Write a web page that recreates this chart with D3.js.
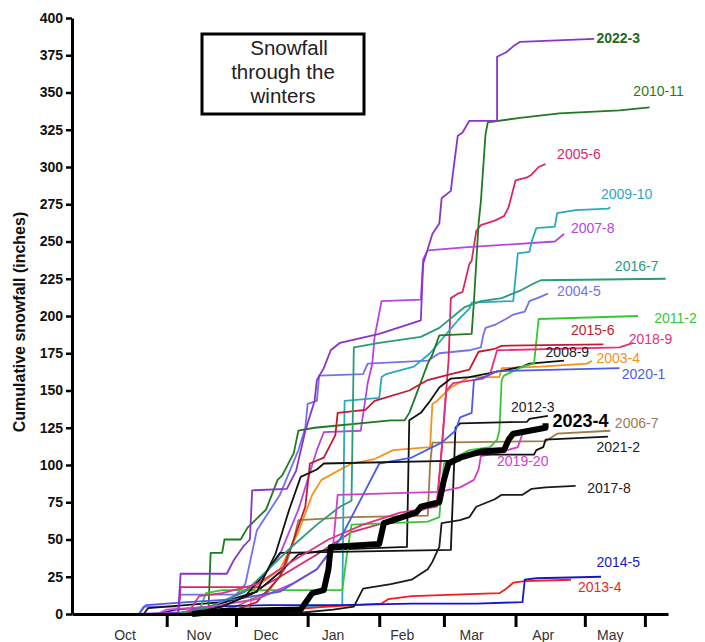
<!DOCTYPE html>
<html><head><meta charset="utf-8">
<script src="https://cdn.jsdelivr.net/npm/d3@7"></script>
<style>body{margin:0;background:#fff}text{font-family:"Liberation Sans",Arial,sans-serif}</style>
</head><body><svg id="c" width="705" height="642"></svg>
<script>
// ---- data ----
const yTicks = [0,25,50,75,100,125,150,175,200,225,250,275,300,325,350,375,400];
const monthBoundaries = ["11-01","12-01","01-01","02-01","03-01","04-01","05-01","05-27"];
const monthLabels = ["Oct","Nov","Dec","Jan","Feb","Mar","Apr","May"];
const monthLabelDates = ["10-14","11-15","12-14","01-12","02-11","03-13","04-13","05-12"];
const titleLines = ["Snowfall","through the","winters"];

const s2022_3 = [["10-20",0],["11-06",1],["11-07",27],["11-27",27],["11-30",36],["12-04",45],["12-07",50],["12-08",83],["12-23",84],["12-27",96],["12-31",123],["01-04",143],["01-05",157],["01-08",165],["01-11",177],["01-15",182],["02-01",188],["02-19",197],["02-20",235],["02-24",255],["02-27",262],["02-28",279],["03-04",284],["03-05",297],["03-06",309],["03-07",321],["03-09",323],["03-12",331],["03-24",331],["03-24",374],["03-28",377],["03-31",381],["04-03",384],["05-05",386]];
const s2010_11 = [["11-01",0],["11-19",0],["11-20",41],["11-25",41],["11-26",50],["12-03",50],["12-06",58],["12-14",70],["12-19",90],["12-21",93],["12-26",108],["12-28",123],["01-04",125],["02-06",130],["02-12",130],["02-14",135],["02-16",143],["02-22",168],["02-24",174],["02-27",187],["03-13",188],["03-14",210],["03-16",262],["03-17",277],["03-19",322],["03-20",330],["04-03",333],["04-20",336],["05-16",338],["05-29",340]];
const s2005_6 = [["11-06",0],["11-07",18],["12-12",18],["12-20",25],["01-05",40],["01-20",55],["02-05",62],["02-20",70],["02-26",76],["02-28",110],["03-02",150],["03-03",170],["03-04",212],["03-07",215],["03-09",216],["03-10",222],["03-12",235],["03-13",237],["03-15",257],["03-17",261],["03-23",264],["03-27",267],["03-29",273],["04-01",291],["04-06",293],["04-08",295],["04-11",300],["04-14",302]];
const s2009_10 = [["11-15",0],["12-10",3],["01-16",6],["01-17",143],["02-01",145],["02-02",159],["02-04",161],["02-16",166],["02-23",175],["03-07",197],["03-12",205],["03-13",209],["03-31",210],["04-02",242],["04-07",243],["04-08",250],["04-10",259],["04-18",260],["04-19",269],["04-27",271],["05-11",272],["05-12",273]];
const s2007_8 = [["11-10",0],["11-25",8],["12-10",20],["12-20",40],["12-28",70],["01-05",110],["01-08",122],["01-24",123],["01-27",155],["01-29",168],["01-30",186],["02-02",210],["02-19",211],["02-20",238],["02-22",244],["03-10",246],["04-18",250],["04-22",255]];
const s2016_7 = [["11-05",0],["11-20",5],["12-05",15],["12-15",30],["12-25",45],["01-05",60],["01-15",72],["01-20",76],["01-21",179],["02-01",182],["02-19",186],["02-27",192],["03-10",206],["03-17",210],["03-26",212],["04-03",217],["04-09",222],["04-12",224],["06-05",225]];
const s2004_5 = [["10-20",0],["10-22",5],["11-06",5],["11-07",13],["12-01",13],["12-05",20],["12-10",56],["12-20",80],["12-28",110],["12-31",125],["01-01",141],["01-05",143],["01-06",160],["01-25",161],["01-27",168],["02-22",170],["02-27",175],["03-12",177],["03-17",179],["03-18",187],["03-19",192],["03-23",194],["03-29",199],["03-31",201],["04-05",203],["04-07",210],["04-12",213],["04-15",215]];
const s2011_2 = [["11-01",0],["11-15",2],["11-18",14],["11-25",16],["01-16",16],["01-18",40],["01-20",60],["02-22",62],["02-27",65],["03-01",101],["03-12",110],["03-21",112],["03-24",117],["03-25",123],["03-26",157],["03-27",160],["04-04",166],["04-09",168],["04-11",198],["05-24",200]];
const s2015_6 = [["11-20",0],["12-01",3],["12-10",8],["12-20",25],["12-26",50],["12-31",72],["01-02",101],["01-08",105],["01-13",120],["01-14",135],["01-26",137],["01-30",143],["02-14",150],["02-22",157],["03-04",161],["03-12",164],["03-16",176],["03-23",178],["03-26",180],["05-09",181]];
const s2018_9 = [["11-10",0],["11-15",12],["11-25",14],["12-10",20],["12-25",35],["01-10",50],["01-25",60],["02-10",68],["02-26",72],["02-28",110],["03-02",150],["03-05",155],["03-18",158],["03-21",161],["03-24",177],["05-16",179],["05-22",182]];
const s2008_9 = [["10-22",0],["10-24",4],["11-25",8],["12-10",15],["12-20",28],["12-28",40],["01-10",43],["02-13",45],["02-14",130],["02-19",135],["02-23",143],["02-27",152],["03-04",158],["03-12",159],["04-04",166],["04-07",168],["04-22",170]];
const s2003_4 = [["11-05",0],["12-07",3],["12-08",16],["12-20",30],["12-28",55],["01-03",80],["01-07",90],["01-20",101],["01-30",104],["02-07",110],["02-23",112],["02-24",141],["02-26",143],["03-04",152],["03-12",159],["03-25",159],["03-26",165],["04-12",166],["05-02",168],["05-04",170]];
const s2020_1 = [["10-20",0],["10-23",6],["11-10",8],["12-01",10],["12-20",15],["01-05",30],["01-15",50],["01-25",80],["02-01",101],["02-15",105],["02-28",115],["03-06",123],["03-08",132],["03-13",135],["03-14",157],["03-20",160],["03-24",163],["05-16",165]];
const s2012_3 = [["11-05",0],["11-20",5],["12-05",12],["12-15",30],["12-20",41],["03-04",43],["03-06",125],["03-08",128],["04-06",129],["04-07",131],["04-15",133]];
const s2006_7 = [["11-15",0],["12-01",5],["12-15",15],["12-22",30],["12-26",50],["12-28",63],["01-20",65],["02-22",66],["02-23",100],["02-24",115],["04-14",116],["04-16",118],["04-19",121],["05-12",123]];
const s2021_2 = [["11-10",0],["11-25",5],["12-10",15],["12-18",40],["12-24",70],["12-29",92],["01-05",97],["01-08",101],["03-08",103],["03-10",107],["04-09",107],["04-10",110],["04-13",112],["04-14",117],["05-11",119]];
const s2019_20 = [["10-01",0],["10-28",0],["11-01",3],["11-20",5],["12-10",10],["12-25",20],["01-05",30],["01-12",45],["01-14",80],["02-27",82],["03-08",85],["03-14",90],["03-16",97],["03-17",106],["03-24",108],["04-02",112],["04-04",121]];
const s2017_8 = [["11-15",0],["12-30",1],["01-12",3],["01-21",5],["01-25",17],["02-06",20],["02-15",23],["02-22",30],["02-24",35],["02-27",45],["02-28",61],["03-08",63],["03-12",65],["03-15",72],["03-23",77],["03-26",80],["04-04",80],["04-08",84],["04-14",85],["04-27",86]];
const s2014_5 = [["10-28",0],["11-05",3],["11-20",5],["12-15",6],["01-15",6],["02-15",7],["03-15",7],["04-04",8],["04-05",23],["04-10",24],["05-08",25]];
const s2013_4 = [["11-15",0],["12-15",2],["01-10",5],["02-02",7],["02-05",10],["02-15",12],["03-25",14],["03-28",17],["03-31",21],["04-05",22],["04-25",23]];
const s2023_4 = [["11-12",0],["11-25",2],["12-29",3],["01-03",14],["01-08",16],["01-10",30],["01-11",45],["02-01",47],["02-03",61],["02-17",68],["02-19",72],["02-27",75],["03-01",90],["03-03",101],["03-08",105],["03-17",109],["03-27",110],["03-29",117],["03-31",121],["04-07",123],["04-14",125],["04-14",128]];

const seasons = ["2003-4","2004-5","2005-6","2006-7","2007-8","2008-9","2009-10","2010-11","2011-2","2012-3","2013-4","2014-5","2015-6","2016-7","2017-8","2018-9","2019-20","2020-1","2021-2","2022-3","2023-4"];
const seasonValues = [s2003_4,s2004_5,s2005_6,s2006_7,s2007_8,s2008_9,s2009_10,s2010_11,s2011_2,s2012_3,s2013_4,s2014_5,s2015_6,s2016_7,s2017_8,s2018_9,s2019_20,s2020_1,s2021_2,s2022_3,s2023_4];
// label anchors (date, inches) for each season, same order
const labelDates = ["05-06","04-19","04-19","05-14","04-25","04-14","05-08","05-22","05-31","03-30","04-28","05-06","04-25","05-14","05-02","05-20","03-24","05-17","05-06","05-06","04-17"];
const labelValues = [171,216,308,127,258,175,281,350,198,138,17,34,190,233,84,184,102,160,111,386,129];

// ---- styles ----
const lineColors = {"2003-4":"#f5921c","2004-5":"#7272ee","2005-6":"#d8286a","2006-7":"#a07a48","2007-8":"#b446e0","2008-9":"#111","2009-10":"#2aa8c2","2010-11":"#1f7a22","2011-2":"#34c934","2012-3":"#111","2013-4":"#f21e1e","2014-5":"#1717c8","2015-6":"#c21a30","2016-7":"#2a9a78","2017-8":"#1a1a1a","2018-9":"#e2307c","2019-20":"#d23fc8","2020-1":"#4b5be8","2021-2":"#111","2022-3":"#8a35c8","2023-4":"#000"};
const labelColors = Object.assign({}, lineColors, {"2022-3":"#1f6a1f","2006-7":"#9a7a55","2017-8":"#222","2008-9":"#222","2012-3":"#222","2021-2":"#222"});

const parse = s => { const [m,d] = s.split("-").map(Number); return new Date(Date.UTC(m>=9?2022:2023, m-1, d)); };

const svg = d3.select("#c");
const x = d3.scaleUtc().domain([parse("09-21"), parse("06-06")]).range([72, 668]);
const y = d3.scaleLinear().domain([0,400]).range([614,18]);

// lines
const line = d3.line().x(d=>x(parse(d[0]))).y(d=>y(d[1]));
const g = svg.append("g");
seasons.forEach((s,i)=>{
  g.append("path").datum(seasonValues[i])
   .attr("d", line).attr("fill","none")
   .attr("stroke", lineColors[s])
   .attr("stroke-width", s==="2023-4"?6:1.8)
   .attr("stroke-linejoin","round");
});

// axes
const ya = svg.append("g").attr("transform","translate(72,0)")
  .call(d3.axisLeft(y).tickValues(yTicks).tickSize(6).tickSizeOuter(0));
ya.select(".domain").attr("stroke","#000").attr("stroke-width",3);
ya.selectAll(".tick line").attr("stroke","#000").attr("stroke-width",2.5);
ya.selectAll(".tick text").attr("font-size",14).attr("font-weight","bold").attr("fill","#111")
  .attr("font-family","'Liberation Sans',Arial,sans-serif");

const xa = svg.append("g").attr("transform","translate(0,614)")
  .call(d3.axisBottom(x).tickValues(monthBoundaries.map(parse)).tickSize(13).tickSizeOuter(0).tickFormat(""));
xa.select(".domain").attr("stroke","#000").attr("stroke-width",3);
xa.selectAll(".tick line").attr("stroke","#000").attr("stroke-width",3);

svg.append("g").selectAll("text").data(monthLabels).join("text")
  .attr("x",(d,i)=>x(parse(monthLabelDates[i]))).attr("y",636)
  .attr("text-anchor","middle").attr("dominant-baseline","middle")
  .attr("font-size",14).attr("fill","#333").text(d=>d);

svg.append("text").attr("transform","translate(21,322) rotate(-90)")
  .attr("text-anchor","middle").attr("dominant-baseline","middle")
  .attr("font-size",16).attr("font-weight","bold").attr("fill","#111")
  .text("Cumulative snowfall (inches)");

// series labels
svg.append("g").selectAll("text").data(seasons).join("text")
  .attr("x",(d,i)=>x(parse(labelDates[i]))).attr("y",(d,i)=>y(labelValues[i]))
  .attr("dominant-baseline","middle")
  .attr("font-size",d=>d==="2023-4"?18:14)
  .attr("font-weight",d=>(d==="2023-4"||d==="2022-3")?"bold":"normal")
  .attr("fill",d=>labelColors[d]).text(d=>d);

// title box
svg.append("rect").attr("x",202).attr("y",34).attr("width",162).attr("height",80)
  .attr("fill","#fff").attr("stroke","#000").attr("stroke-width",3);
svg.append("g").selectAll("text").data(titleLines).join("text")
  .attr("x",(d,i)=>[289,283,283][i]).attr("y",(d,i)=>50+i*24)
  .attr("text-anchor","middle").attr("dominant-baseline","middle")
  .attr("font-size",20.5).attr("fill","#222").text(d=>d);
</script></body></html>
